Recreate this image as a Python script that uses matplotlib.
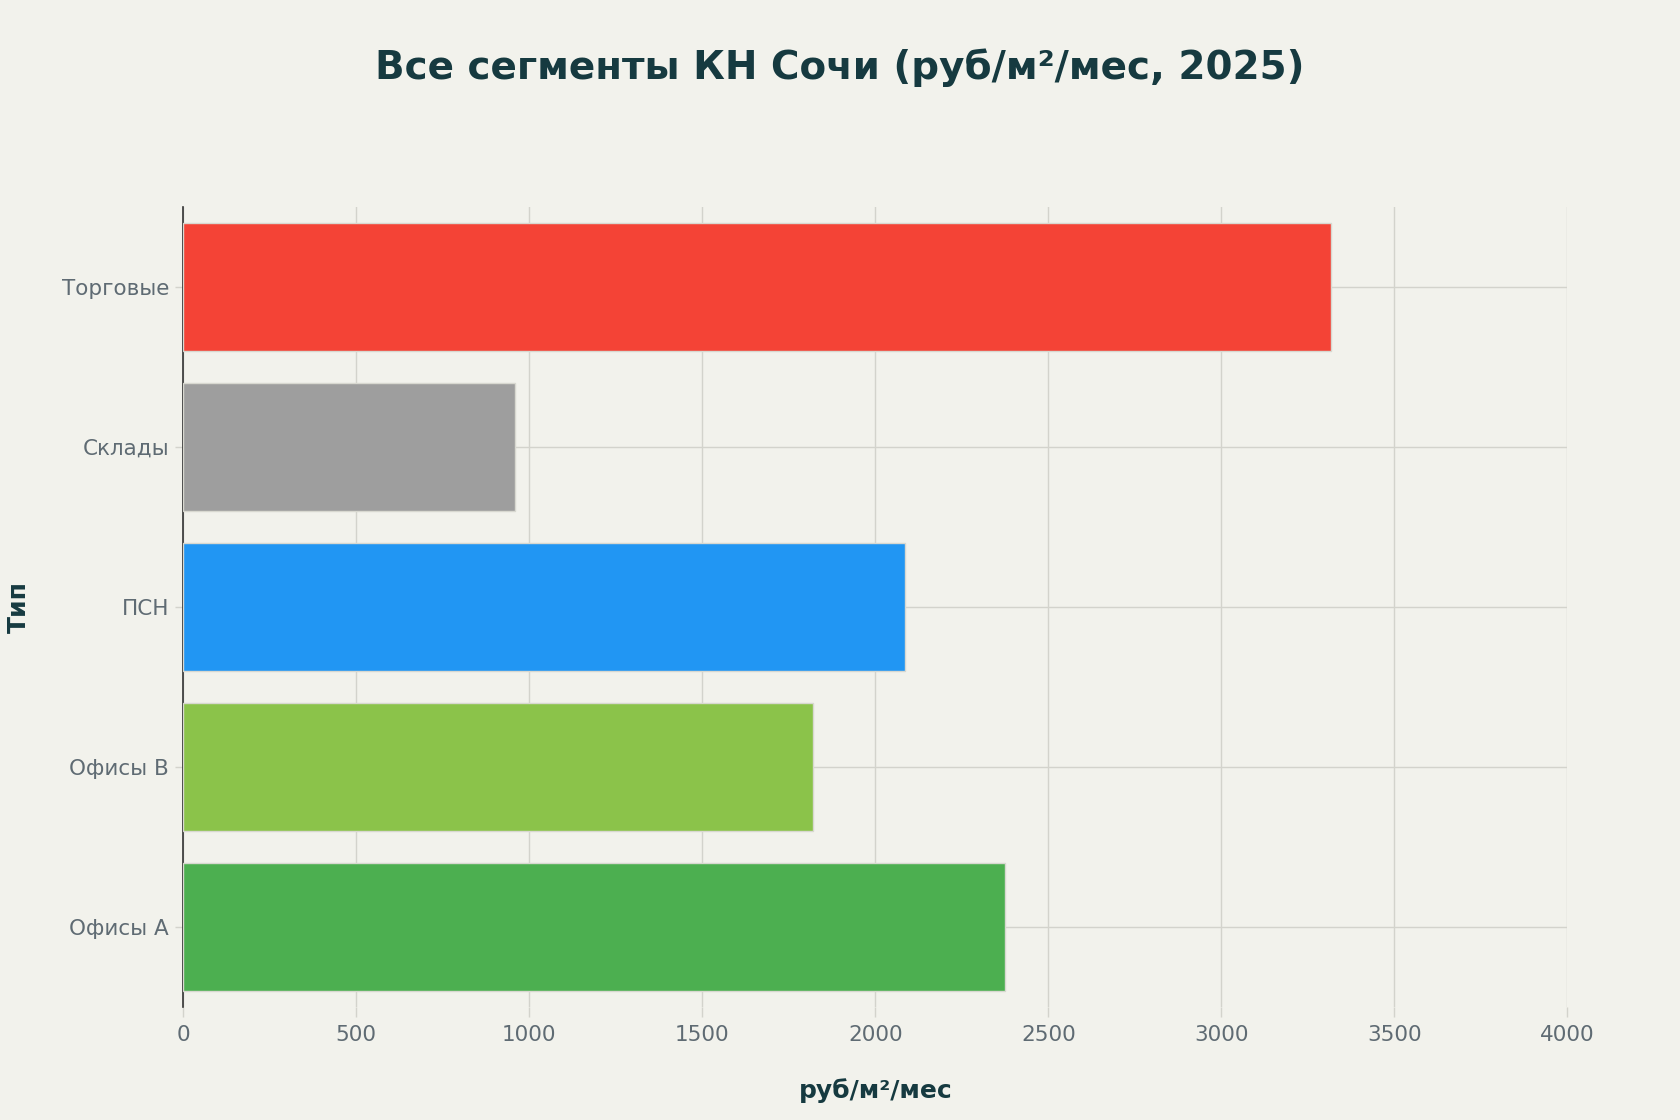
import matplotlib
matplotlib.use("Agg")
import matplotlib.pyplot as plt

categories = ["Офисы А", "Офисы В", "ПСН", "Склады", "Торговые"]
values = [2375, 1820, 2085, 958, 3318]
colors = ["#4caf50", "#8bc34a", "#2196f3", "#9e9e9e", "#f44336"]
xticks = [0, 500, 1000, 1500, 2000, 2500, 3000, 3500, 4000]

title = "Все сегменты КН Сочи (руб/м²/мес, 2025)"
xlabel = "руб/м²/мес"
ylabel = "Тип"

bg = "#f2f2ec"
dark = "#163a40"
tickc = "#5f6b73"

plt.rcParams['font.family'] = ['DejaVu Sans']

fig = plt.figure(figsize=(16.8, 11.2), dpi=100, facecolor=bg)
ax = fig.add_axes([0.109, 0.101, 0.824, 0.714], facecolor=bg)

ypos = list(range(len(categories)))
ax.barh(ypos, values, height=0.8, color=colors, edgecolor="#d8d8d0", linewidth=1.0, zorder=3)

ax.set_xlim(0, 4000)
ax.set_ylim(-0.5, 4.5)
ax.set_xticks(xticks)
ax.set_xticklabels([str(t) for t in xticks])
ax.set_yticks(ypos)
ax.set_yticklabels(categories)

ax.grid(True, color="#d3d3cc", linewidth=1.0, zorder=0)
for s in ["top", "right", "bottom"]:
    ax.spines[s].set_visible(False)
ax.spines["left"].set_color("#333333")
ax.spines["left"].set_linewidth(1.2)

ax.tick_params(axis="x", colors="#d3d3cc", labelcolor=tickc, labelsize=15.5, length=7, width=1.0, pad=6)
ax.tick_params(axis="y", colors="#d3d3cc", labelcolor=tickc, labelsize=15.5, length=6, width=1.0, pad=4)

ax.set_xlabel(xlabel, fontsize=18, fontweight="bold", color=dark, labelpad=24)
ax.set_ylabel(ylabel, fontsize=18, fontweight="bold", color=dark, labelpad=22)

fig.text(0.5, 0.94, title, ha="center", va="center", fontsize=28, fontweight="bold", color=dark)

fig.savefig("out.png", dpi=100, facecolor=bg)
